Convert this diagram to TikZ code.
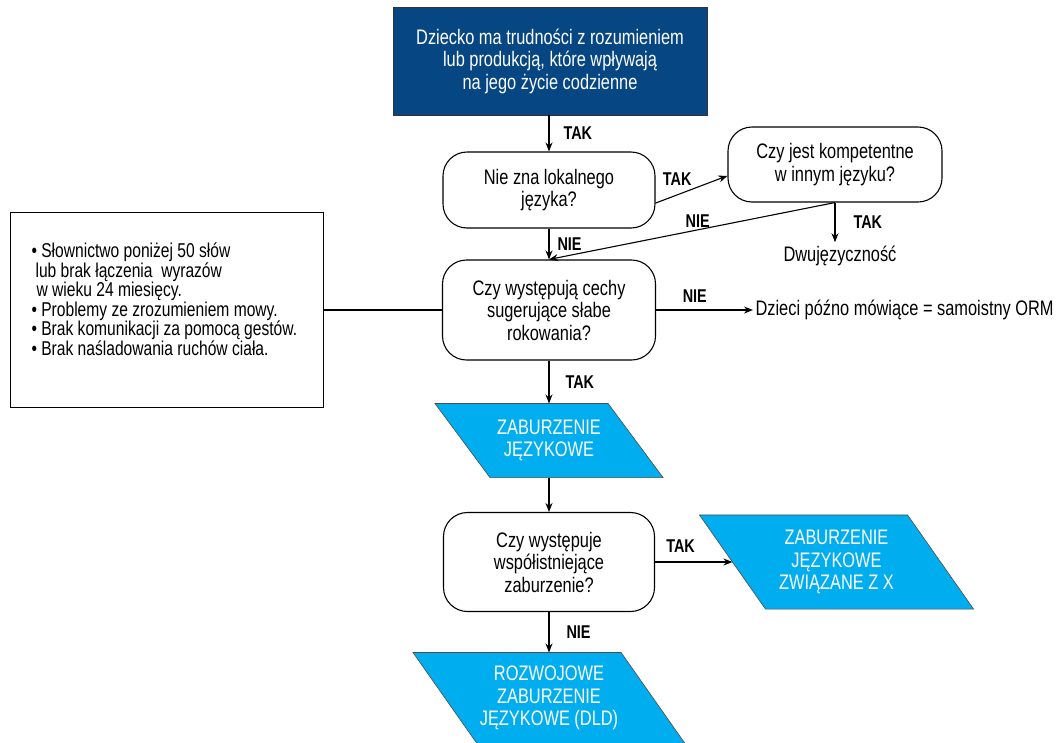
\documentclass[tikz,border=0pt]{standalone}
\usepackage{fontspec}
\setmainfont{Liberation Sans}[FakeStretch=0.78]
\usetikzlibrary{arrows.meta,calc,backgrounds}
\definecolor{navybox}{RGB}{6,70,130}
\definecolor{cyanbox}{RGB}{0,174,239}
\newcommand{\skewbox}[2]{\filldraw[skewfill] ($(#1.north west)+(-#2,0)$) -- ($(#1.north east)+(-#2,0)$)
  -- ($(#1.south east)+(#2,0)$) -- ($(#1.south west)+(#2,0)$) -- cycle;}

\begin{document}
\begin{tikzpicture}[x=1pt,y=-1pt,>={Stealth[length=9pt,width=7pt]},line width=1.1pt,
  txt/.style={font=\fontsize{21}{22.5}\selectfont,align=center},
  lbl/.style={font=\fontsize{18.5}{20}\selectfont\bfseries,inner sep=0pt},
  startbox/.style={txt,draw=black!80,line width=0.8pt,fill=navybox,text=white,minimum width=314pt,minimum height=108pt},
  question/.style={txt,draw,rounded corners=24pt,minimum height=76pt},
  skewtext/.style={txt,text=white,inner sep=0pt},
  skewfill/.style={fill=cyanbox,draw=black!70,line width=0.6pt}]
\useasboundingbox (0,0) rectangle (1060,742);

\node[startbox] (start) at (550,61) {Dziecko ma trudności z rozumieniem\\lub produkcją, które wpływają\\na jego życie codzienne};
\node[question,minimum width=212pt] (lokalny) at (549,190) {Nie zna lokalnego\\języka?};
\node[question,minimum width=214pt,minimum height=75pt] (inny) at (835,164.5) {Czy jest kompetentne\\w innym języku?};
\node[txt] (dwuj) at (840,256) {Dwujęzyczność};
\node[question,minimum width=213pt,minimum height=100pt] (cechy) at (549,310) {Czy występują cechy\\sugerujące słabe\\rokowania?};
\node[txt,anchor=west,inner sep=2pt] (orm) at (753,310) {Dzieci późno mówiące = samoistny ORM};
\node[draw,line width=0.8pt,minimum width=313pt,minimum height=195pt] (objawy) at (166.5,310) {};
\node[font=\fontsize{20}{19.5}\selectfont,align=left,anchor=west,inner sep=0pt] (objawytxt) at (31,299) {%
• Słownictwo poniżej 50 słów\\
\hspace*{4pt}lub brak łączenia~ wyrazów\\
\hspace*{5pt}w wieku 24 miesięcy.\\
• Problemy ze zrozumieniem mowy.\\
• Brak komunikacji za pomocą gestów.\\
• Brak naśladowania ruchów ciała.};
\node[skewtext,minimum width=172pt,minimum height=73pt] (zab) at (549,440.5) {ZABURZENIE\\JĘZYKOWE};
\node[question,minimum width=211pt,minimum height=99pt] (wspol) at (549,562) {Czy występuje\\współistniejące\\zaburzenie?};
\node[skewtext,minimum width=207pt,minimum height=93pt] (zwx) at (836.5,562) {ZABURZENIE\\JĘZYKOWE\\ZWIĄZANE Z X};
\node[skewtext,minimum width=207pt,minimum height=90pt] (dld) at (549,698) {ROZWOJOWE\\ZABURZENIE\\JĘZYKOWE (DLD)};

\begin{scope}[on background layer]
\skewbox{zab}{27.5}
\skewbox{zwx}{33}
\skewbox{dld}{32}
\end{scope}

\draw[->] (lokalny.north |- start.south) -- (lokalny.north) node[lbl,midway,right=14pt] (tak1) {TAK};
\draw[->] (lokalny.-7.5) -- (inny.186) node[lbl,pos=0.3,above=9pt] (tak2) {TAK};
\draw[->] (lokalny.south) -- (cechy.north) node[lbl,midway,right=8pt] (nie1) {NIE};
\draw[->] (inny.south) -- (cechy.north) node[lbl,pos=0.48,above=2pt] (nie2) {NIE};
\draw[->] (inny.south) -- (inny.south |- dwuj.north) node[lbl,midway,right=18pt] (tak3) {TAK};
\draw[->] (cechy) -- (orm) node[lbl,pos=0.4,above=7pt] (nie3) {NIE};
\draw (objawy) -- (cechy);
\draw[->] (cechy) -- (zab) node[lbl,midway,right=16pt] (tak4) {TAK};
\draw[->] (zab) -- (wspol);
\draw[->] (wspol) -- (zwx) node[lbl,pos=0.33,above=9pt] (tak5) {TAK};
\draw[->] (wspol) -- (dld) node[lbl,midway,right=17pt] (nie4) {NIE};
\end{tikzpicture}
\end{document}
